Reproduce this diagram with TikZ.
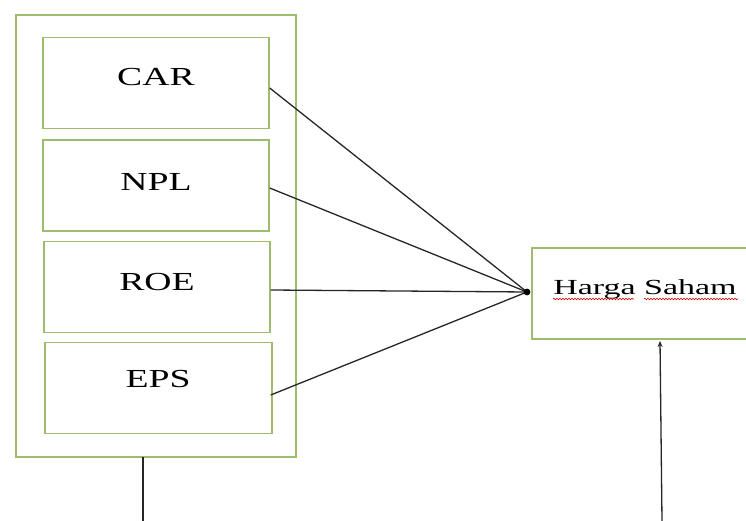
\documentclass[tikz,border=0pt]{standalone}
\usepackage{fontspec}
\setmainfont{Liberation Serif}
\usetikzlibrary{calc,arrows.meta,decorations.pathmorphing}
\definecolor{boxgreen}{RGB}{158,188,110}
\tikzset{
  gbox/.style={draw=boxgreen, line width=1.4pt, fill=white},
  varbox/.style={gbox, minimum width=226pt, minimum height=91pt, inner sep=0pt},
  vlabel/.style={font=\fontsize{26}{30}\selectfont, inner sep=0pt},
  conn/.style={draw=black!85, line width=1.3pt},
  squig/.style={draw=red!80!black, line width=0.6pt, decorate, decoration={snake, amplitude=0.8pt, segment length=3pt}}
}
\newcommand{\wide}[1]{\scalebox{1.45}[1]{#1}}
\begin{document}
\begin{tikzpicture}[x=1pt, y=-1pt]
\useasboundingbox (0,0) rectangle (746,521);
% outer group box
\node[gbox, minimum width=280pt, minimum height=442pt, inner sep=0pt] (outer) at (156,236) {};
% variable boxes
\node[varbox] (car) at (156,83) {};
\node[varbox] (npl) at (156,185.5) {};
\node[varbox] (roe) at (157,287) {};
\node[varbox, minimum width=227pt] (eps) at (158.5,388) {};
\node[vlabel] (carl) at (156,77) {\wide{CAR}};
\node[vlabel] (npll) at (156,182) {\wide{NPL}};
\node[vlabel] (roel) at (157,282) {\wide{ROE}};
\node[vlabel] (epsl) at (158,379) {\wide{EPS}};
% dependent box
\node[gbox, minimum width=216pt, minimum height=91pt, inner sep=0pt] (harga) at (640,293.5) {};
\node[inner sep=0pt, font=\fontsize{21.5}{25}\selectfont] (hargal) at (645,289) {\scalebox{1.58}[1]{Harga Saham}};
\coordinate (hub) at (527,292);
% connectors
\draw[conn] ($(car.east)+(0,5)$) -- (hub);
\draw[conn] ($(npl.east)+(0,2.5)$) -- (hub);
\draw[conn] ($(roe.east)+(0,3)$) -- (hub);
\draw[conn] ($(eps.east)+(-2,7)$) -- (hub);
\fill[black] (hub) circle (3.4pt);
% spell-check underlines
\coordinate (u1a) at (553,299); \coordinate (u1b) at (634,299);
\coordinate (u2a) at (644,299); \coordinate (u2b) at (738,299);
\draw[squig] (u1a) -- (u1b);
\draw[squig] (u2a) -- (u2b);
% bottom lines
\coordinate (bl) at (143,521);
\coordinate (blt) at (143,457);
\draw[conn] (bl) -- (blt);
\coordinate (br) at (662,521);
\draw[conn, -{Stealth[length=6pt,width=5pt]}] (br) -- (660,341);
\end{tikzpicture}
\end{document}
